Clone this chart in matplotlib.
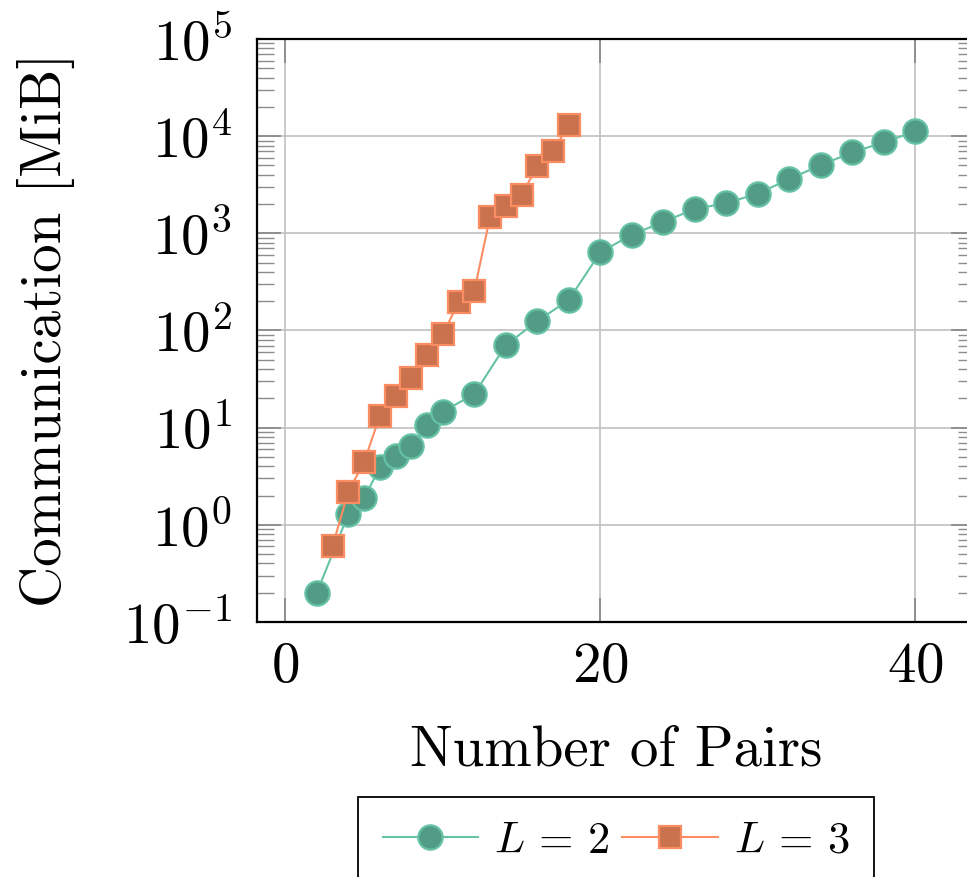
import matplotlib
matplotlib.use("Agg")
import matplotlib.pyplot as plt
from matplotlib.ticker import LogLocator, NullFormatter

plt.rcParams['mathtext.fontset'] = 'cm'
plt.rcParams['font.family'] = 'cmr10'
plt.rcParams['axes.unicode_minus'] = False

# communication cost per number of pairs, one series per L
pairs_l2 = [2, 4, 5, 6, 7, 8, 9, 10, 12, 14, 16, 18, 20, 22, 24, 26, 28, 30, 32, 34, 36, 38, 40]
comm_l2 = [0.20, 1.29, 1.87, 3.92, 5.09, 6.4, 10.7, 14.6, 22.2, 70.6, 125, 206, 637, 968,
           1309, 1783, 2042, 2566, 3612, 5040, 6800, 8630, 11200]
pairs_l3 = [3, 4, 5, 6, 7, 8, 9, 10, 11, 12, 13, 14, 15, 16, 17, 18]
comm_l3 = [0.607, 2.19, 4.41, 13.2, 21.2, 32.5, 55.7, 91, 195, 255, 1473, 1900, 2487, 4875, 6965, 13060]

xticks = [0, 20, 40]
yexps = [-1, 0, 1, 2, 3, 4, 5]

green = '#66c2a5'
green_fill = '#529b84'
orange = '#fc8d62'
orange_fill = '#ca714e'

fig = plt.figure(figsize=(9.67, 8.77), dpi=100)
ax = fig.add_axes([257 / 967, 1 - 622 / 877, 718 / 967, 583 / 877])

ax.plot(pairs_l2, comm_l2, color=green, lw=1.5, marker='o', ms=17.5,
        mfc=green_fill, mec=green, mew=1.6, label=r'$L\,=\,2$', zorder=3)
ax.plot(pairs_l3, comm_l3, color=orange, lw=1.5, marker='s', ms=16.5,
        mfc=orange_fill, mec=orange, mew=1.6, label=r'$L\,=\,3$', zorder=4)

ax.set_yscale('log')
ax.set_xlim(-1.8, 43.8)
ax.set_ylim(1e-1, 1e5)

ax.set_xticks(xticks)
ax.set_xticklabels([r'$%d$' % v for v in xticks])
ax.set_yticks([10.0 ** e for e in yexps])
ax.set_yticklabels([r'$10^{%d}$' % e for e in yexps])
ax.yaxis.set_minor_locator(LogLocator(base=10, subs=range(2, 10), numticks=20))
ax.yaxis.set_minor_formatter(NullFormatter())

ax.grid(True, which='major', color='#c0c0c0', lw=1.2)
ax.set_axisbelow(True)

ax.tick_params(which='major', direction='in', length=17, width=1.1, color='#808080',
               top=True, right=True, labelsize=41)
ax.tick_params(axis='x', which='major', pad=14)
ax.tick_params(axis='y', which='major', pad=18)
ax.tick_params(which='minor', direction='in', length=12, width=1.0, color='#8c8c8c',
               left=True, right=True)
ax.tick_params(axis='x', which='minor', bottom=False, top=False)

for s in ax.spines.values():
    s.set_linewidth(1.6)
    s.set_color('black')

fig.text(616 / 967, 1 - 765 / 877, 'Number of Pairs', fontsize=41,
         ha='center', va='baseline')
fig.text(61 / 967, 1 - 330 / 877, 'Communication [MiB]', fontsize=41,
         rotation=90, rotation_mode='anchor', ha='center', va='baseline')

leg = ax.legend(loc='upper center', bbox_to_anchor=(616 / 967, 1 - 797 / 877),
                bbox_transform=fig.transFigure, ncol=2, fontsize=32,
                frameon=True, fancybox=False, edgecolor='black', framealpha=1,
                handlelength=2.15, handletextpad=0.35, columnspacing=0.3,
                borderpad=0.55, borderaxespad=0)
leg.get_frame().set_linewidth(1.3)

fig.savefig('out.png', dpi=100)
